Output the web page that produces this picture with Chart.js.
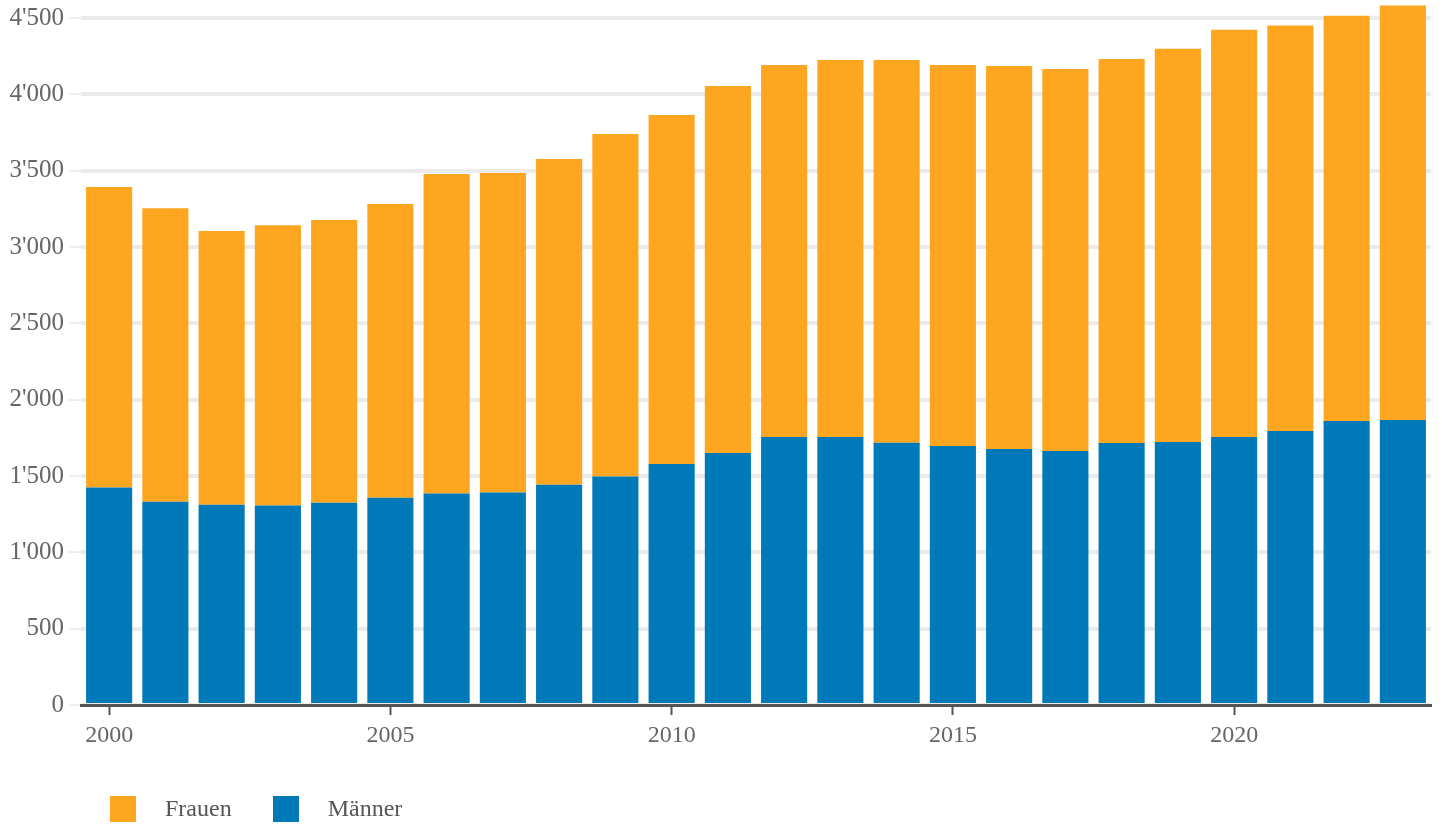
<!DOCTYPE html>
<html>
<head>
<meta charset="utf-8">
<script src="https://cdn.jsdelivr.net/npm/chart.js@4"></script>
<style>
  body { margin: 0; background: #fff; }
  #wrap { position: relative; width: 1442px; height: 827px; }
  #legend {
    position: absolute; left: 110px; top: 795px;
    display: flex; align-items: center;
    font-family: "Liberation Serif", serif; font-size: 24px; color: #555;
  }
  .item { display: flex; align-items: center; margin-right: 41px; }
  .box { width: 26px; height: 26px; margin-right: 29px; }
</style>
</head>
<body>
<div id="wrap">
  <canvas id="chart" width="1442" height="827"></canvas>
  <div id="legend"></div>
</div>
<script>
// Years on the x axis
const years = [2000, 2001, 2002, 2003, 2004, 2005, 2006, 2007, 2008, 2009, 2010, 2011,
               2012, 2013, 2014, 2015, 2016, 2017, 2018, 2019, 2020, 2021, 2022, 2023];

// Values
const maenner = [1424, 1332, 1312, 1306, 1325, 1358, 1385, 1392, 1443, 1496, 1579, 1651,
                 1756, 1756, 1717, 1697, 1677, 1664, 1716, 1723, 1755, 1795, 1860, 1867];
const frauen = [1969, 1922, 1792, 1837, 1851, 1923, 2093, 2093, 2134, 2244, 2286, 2404,
                2436, 2469, 2508, 2495, 2509, 2502, 2515, 2575, 2668, 2655, 2655, 2714];

// Y axis ticks (the axis itself runs a bit higher so the last bars fit)
const yTicks = [0, 500, 1000, 1500, 2000, 2500, 3000, 3500, 4000, 4500];
const yMax = 4600;

const orange = '#ffa620';
const blue = '#0079b9';

// thousands separator with apostrophe
function fmt(v) {
    return String(v).replace(/\B(?=(\d{3})+(?!\d))/g, "'");
}

const ctx = document.getElementById('chart').getContext('2d');
const chart = new Chart(ctx, {
    type: 'bar',
    data: {
        labels: years.map(String),
        datasets: [
            { label: 'Männer', data: maenner, backgroundColor: blue },
            { label: 'Frauen', data: frauen, backgroundColor: orange }
        ]
    },
    options: {
        responsive: false,
        animation: false,
        datasets: { bar: { categoryPercentage: 1, barPercentage: 0.82 } },
        layout: { padding: { top: 2.7, right: 11, left: 0, bottom: 0 } },
        plugins: { legend: { display: false }, tooltip: { enabled: false } },
        scales: {
            x: {
                stacked: true,
                afterFit: function (scale) { scale.height = 122; },
                border: { display: true, color: '#555', width: 3 },
                grid: {
                    offset: false,
                    drawOnChartArea: false,
                    tickLength: 10,
                    tickWidth: 2,
                    tickColor: c => (years[c.index] % 5 === 0 ? '#555' : 'rgba(0,0,0,0)')
                },
                ticks: {
                    autoSkip: false,
                    maxRotation: 0,
                    padding: 6,
                    color: '#666',
                    font: { family: 'Liberation Serif', size: 24 },
                    callback: function (val, i) { return years[i] % 5 === 0 ? String(years[i]) : ''; }
                }
            },
            y: {
                stacked: true,
                min: 0,
                max: yMax,
                afterFit: function (scale) {
                    scale.width = 81;
                    scale.paddingTop = 0; // top tick is not at the edge
                },
                afterBuildTicks: function (scale) { scale.ticks = yTicks.map(v => ({ value: v })); },
                border: { display: false },
                grid: {
                    color: '#ebebeb',
                    lineWidth: 4,
                    tickColor: '#dedede',
                    tickWidth: 1,
                    tickLength: 12
                },
                ticks: {
                    padding: 5,
                    color: '#666',
                    font: { family: 'Liberation Serif', size: 25 },
                    callback: v => fmt(v)
                }
            }
        }
    }
});

// Legend below the chart, Frauen first
const legend = document.getElementById('legend');
[['Frauen', orange], ['Männer', blue]].forEach(function (item) {
    const div = document.createElement('div');
    div.className = 'item';
    div.innerHTML = '<span class="box" style="background:' + item[1] + '"></span><span>' + item[0] + '</span>';
    legend.appendChild(div);
});
</script>
</body>
</html>
